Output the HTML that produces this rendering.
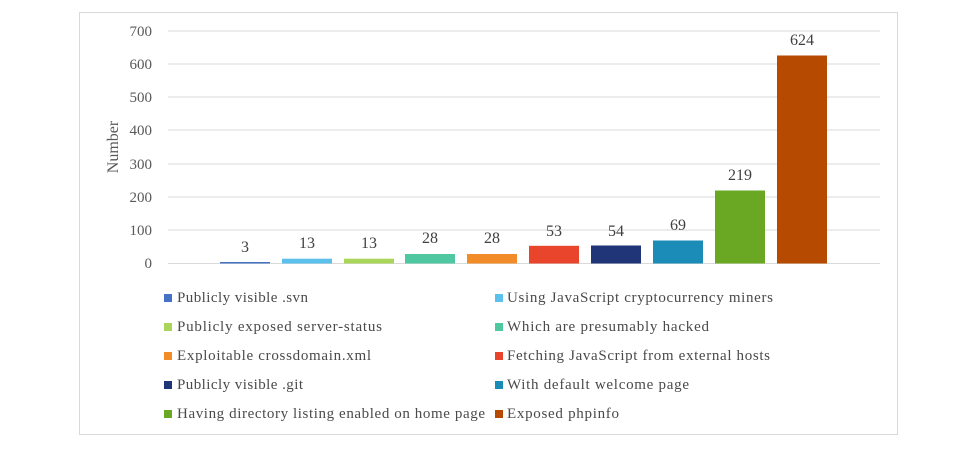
<!DOCTYPE html>
<html><head><style>
body{margin:0;background:#fff;}
svg text{font-family:"Liberation Serif",serif;}
</style></head><body>
<svg width="977" height="456" xmlns="http://www.w3.org/2000/svg">
<rect x="79.5" y="12.5" width="818" height="422" fill="#fff" stroke="#d9d9d9"/>
<g stroke="#d9d9d9" stroke-width="1">
<line x1="168" x2="880" y1="31" y2="31"/>
<line x1="168" x2="880" y1="64" y2="64"/>
<line x1="168" x2="880" y1="97" y2="97"/>
<line x1="168" x2="880" y1="130" y2="130"/>
<line x1="168" x2="880" y1="164" y2="164"/>
<line x1="168" x2="880" y1="197" y2="197"/>
<line x1="168" x2="880" y1="230" y2="230"/>
<line x1="168" x2="880" y1="263.5" y2="263.5"/>
</g>
<g font-size="15" fill="#595959" text-anchor="end">
<text x="152" y="36">700</text><text x="152" y="69">600</text><text x="152" y="102">500</text>
<text x="152" y="135">400</text><text x="152" y="169">300</text><text x="152" y="202">200</text>
<text x="152" y="235">100</text><text x="152" y="268">0</text>
</g>
<text transform="translate(118,147) rotate(-90)" font-size="16" fill="#595959" text-anchor="middle">Number</text>
<g>
<rect x="220" y="262" width="50" height="1.5" fill="#4472c4"/>
<rect x="282" y="258.7" width="50" height="4.8" fill="#5bc0eb"/>
<rect x="344" y="258.7" width="50" height="4.8" fill="#a9d65a"/>
<rect x="405" y="254" width="50" height="9.5" fill="#4fc7a0"/>
<rect x="467" y="254" width="50" height="9.5" fill="#f28c28"/>
<rect x="529" y="245.8" width="50" height="17.7" fill="#e8452c"/>
<rect x="591" y="245.5" width="50" height="18" fill="#1f3577"/>
<rect x="653" y="240.5" width="50" height="23" fill="#1b8cb8"/>
<rect x="715" y="190.5" width="50" height="73" fill="#6aa823"/>
<rect x="777" y="55.5" width="50" height="208" fill="#b54a00"/>
</g>
<g font-size="16" fill="#404040" text-anchor="middle">
<text x="245" y="252">3</text><text x="307" y="248">13</text><text x="369" y="248">13</text>
<text x="430" y="243">28</text><text x="492" y="243">28</text><text x="554" y="236">53</text>
<text x="616" y="236">54</text><text x="678" y="230">69</text><text x="740" y="180">219</text>
<text x="802" y="45">624</text>
</g>
<g font-size="15" fill="#4a4a4a" lengthAdjust="spacingAndGlyphs">
<rect x="164" y="294" width="8" height="8" fill="#4472c4"/><text x="177" y="302" textLength="131">Publicly visible .svn</text>
<rect x="164" y="323" width="8" height="8" fill="#a9d65a"/><text x="177" y="331" textLength="205">Publicly exposed server-status</text>
<rect x="164" y="352" width="8" height="8" fill="#f28c28"/><text x="177" y="360" textLength="194">Exploitable crossdomain.xml</text>
<rect x="164" y="381" width="8" height="8" fill="#1f3577"/><text x="177" y="389" textLength="126">Publicly visible .git</text>
<rect x="164" y="410" width="8" height="8" fill="#6aa823"/><text x="177" y="418" textLength="308">Having directory listing enabled on home page</text>
<rect x="495" y="294" width="8" height="8" fill="#5bc0eb"/><text x="507" y="302" textLength="266">Using JavaScript cryptocurrency miners</text>
<rect x="495" y="323" width="8" height="8" fill="#4fc7a0"/><text x="507" y="331" textLength="202">Which are presumably hacked</text>
<rect x="495" y="352" width="8" height="8" fill="#e8452c"/><text x="507" y="360" textLength="263">Fetching JavaScript from external hosts</text>
<rect x="495" y="381" width="8" height="8" fill="#1b8cb8"/><text x="507" y="389" textLength="182">With default welcome page</text>
<rect x="495" y="410" width="8" height="8" fill="#b54a00"/><text x="507" y="418" textLength="112">Exposed phpinfo</text>
</g>
</svg>
</body></html>
